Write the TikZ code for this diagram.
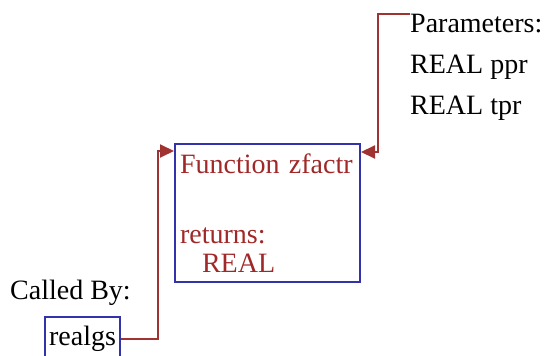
\documentclass[tikz,border=0pt]{standalone}
\usepackage{fontspec}
\setmainfont{Liberation Serif}
\usetikzlibrary{arrows.meta,positioning,calc}
\definecolor{fnred}{RGB}{160,40,40}
\definecolor{linkred}{RGB}{160,50,50}
\definecolor{boxblue}{RGB}{50,50,170}

\begin{document}
\begin{tikzpicture}[x=1pt, y=-1pt,
      arr/.style={-{Triangle[length=14pt, width=13pt]}, line width=2pt, linkred},
      fnbox/.style={draw=boxblue, line width=2pt, text=fnred, align=left,
                    anchor=north west, minimum width=185pt, minimum height=138pt,
                    text width=175pt, inner sep=5pt,
                    font=\fontsize{28}{30}\selectfont},
      callbox/.style={draw=boxblue, line width=2pt, text=black,
                      minimum width=75pt, minimum height=44pt, inner sep=3pt,
                      font=\fontsize{28}{30}\selectfont},
      lbl/.style={text=black, align=left, inner sep=0pt,
                  font=\fontsize{28}{41}\selectfont},
    ]
    \useasboundingbox (0,0) rectangle (547,356);

    \node[fnbox] (fn) at (174,143)
      {Function zfactr\\[40pt]returns:\\[-1pt]\hspace*{22pt}REAL};

    \node[lbl, anchor=north west] (params) at (410,14)
      {Parameters:\\REAL ppr\\REAL tpr};

    \node[lbl, anchor=west] (calledby) at (10,293) {Called By:};
    \node[callbox] (realgs) at (82.5,339) {realgs};

    \draw[arr] (params.north west) -- ++(-32,0) |- ($(fn.north east)+(0,9)$);
    \draw[arr] (realgs.east) -- ++(37,0) |- ($(fn.north west)+(0,8)$);
  \end{tikzpicture}
\end{document}
